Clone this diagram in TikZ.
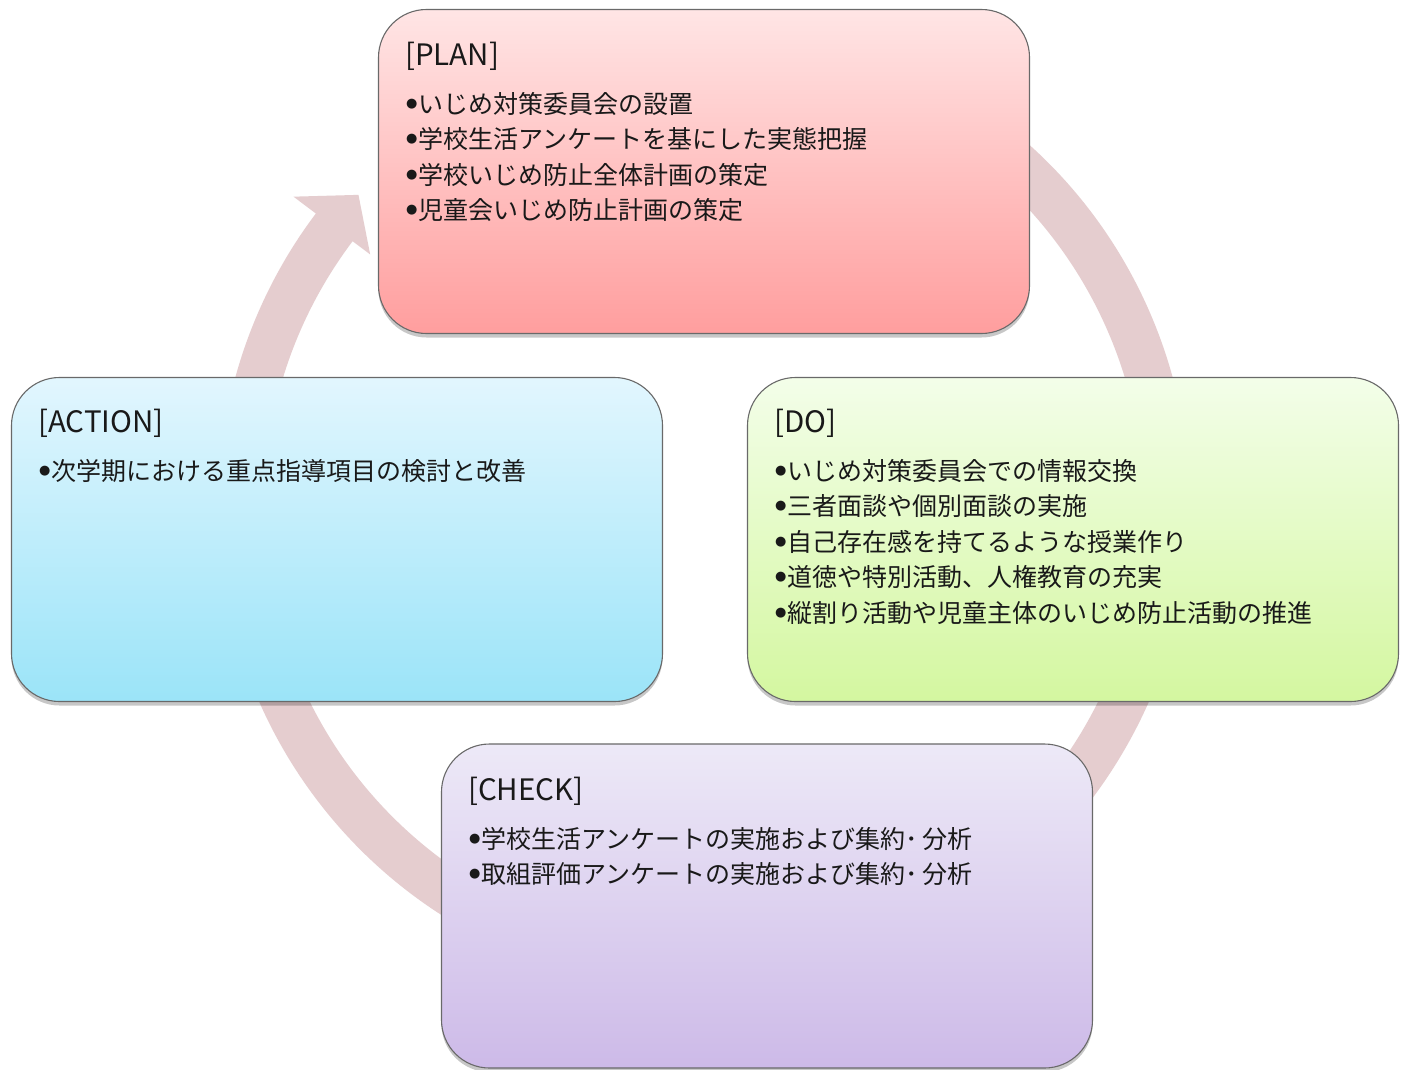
\documentclass[tikz,border=0pt]{standalone}
\usepackage{fontspec}
\setmainfont{Noto Sans CJK JP}
\newfontfamily\bulfont{DejaVu Sans}
\usetikzlibrary{shadows}
\definecolor{ringc}{RGB}{229,205,207}
\definecolor{boxline}{RGB}{105,105,105}
\definecolor{txt}{RGB}{25,25,25}
\definecolor{plantop}{RGB}{255,229,229}
\definecolor{planbot}{RGB}{255,158,158}
\definecolor{acttop}{RGB}{226,246,254}
\definecolor{actbot}{RGB}{155,228,248}
\definecolor{dotop}{RGB}{243,254,233}
\definecolor{dobot}{RGB}{212,247,160}
\definecolor{chktop}{RGB}{237,233,247}
\definecolor{chkbot}{RGB}{205,186,232}
\newcommand\bl{\makebox[12pt][l]{\raisebox{5.5pt}{\bulfont\fontsize{13}{13}\selectfont ●}}}
\newcommand\mdot{･\hspace{5pt}}
\begin{document}
\begin{tikzpicture}[x=1pt,y=-1pt,
  box/.style n args={2}{draw=boxline, line width=1.1pt, rounded corners=48pt,
    top color=#1, bottom color=#2, inner sep=0pt, minimum width=651pt, minimum height=324pt,
    drop shadow={opacity=0.22, shadow xshift=0pt, shadow yshift=-4pt, fill=black}},
  ttl/.style={anchor=base west, inner sep=0pt, text=txt, font=\fontsize{29.5}{34}\selectfont},
  ln/.style={anchor=base west, inner sep=0pt, text=txt, font=\fontsize{25}{30}\selectfont}]
\useasboundingbox (0,0) rectangle (1405,1069);
\fill[white] (0,0) rectangle (1405,1069);
% cycle ring with arrowhead
\begin{scope}[shift={(704,506)}, x=1pt, y=1pt]
  \fill[ringc] (60:486) arc[start angle=60, end angle=-217, radius=486]
     -- (-217:514) -- (138:465) -- (-217:418) -- (-217:440)
     arc[start angle=-217, end angle=60, radius=440] -- cycle;
\end{scope}
% boxes
\node[box={acttop}{actbot}] (action) at (337,539.5) {};
\node[box={dotop}{dobot}] (do) at (1073,539.5) {};
\node[box={chktop}{chkbot}] (check) at (767,906) {};
\node[box={plantop}{planbot}] (plan) at (704,171.5) {};
% PLAN text
\node[ttl] (plant) at (405,65) {[PLAN]};
\node[ln] (plan1) at (406,113) {\bl いじめ対策委員会の設置};
\node[ln] (plan2) at (406,148) {\bl 学校生活アンケートを基にした実態把握};
\node[ln] (plan3) at (406,184) {\bl 学校いじめ防止全体計画の策定};
\node[ln] (plan4) at (406,219) {\bl 児童会いじめ防止計画の策定};
% ACTION text
\node[ttl] (actiont) at (38,432) {[ACTION]};
\node[ln] (action1) at (39,480) {\bl 次学期における重点指導項目の検討と改善};
% DO text
\node[ttl] (dot) at (774,432) {[DO]};
\node[ln] (do1) at (775,480) {\bl いじめ対策委員会での情報交換};
\node[ln] (do2) at (775,515) {\bl 三者面談や個別面談の実施};
\node[ln] (do3) at (775,551) {\bl 自己存在感を持てるような授業作り};
\node[ln] (do4) at (775,586) {\bl 道徳や特別活動、人権教育の充実};
\node[ln] (do5) at (775,622) {\bl 縦割り活動や児童主体のいじめ防止活動の推進};
% CHECK text
\node[ttl] (checkt) at (468,800) {[CHECK]};
\node[ln] (check1) at (469,848) {\bl 学校生活アンケートの実施および集約\mdot 分析};
\node[ln] (check2) at (469,883) {\bl 取組評価アンケートの実施および集約\mdot 分析};
\end{tikzpicture}
\end{document}
